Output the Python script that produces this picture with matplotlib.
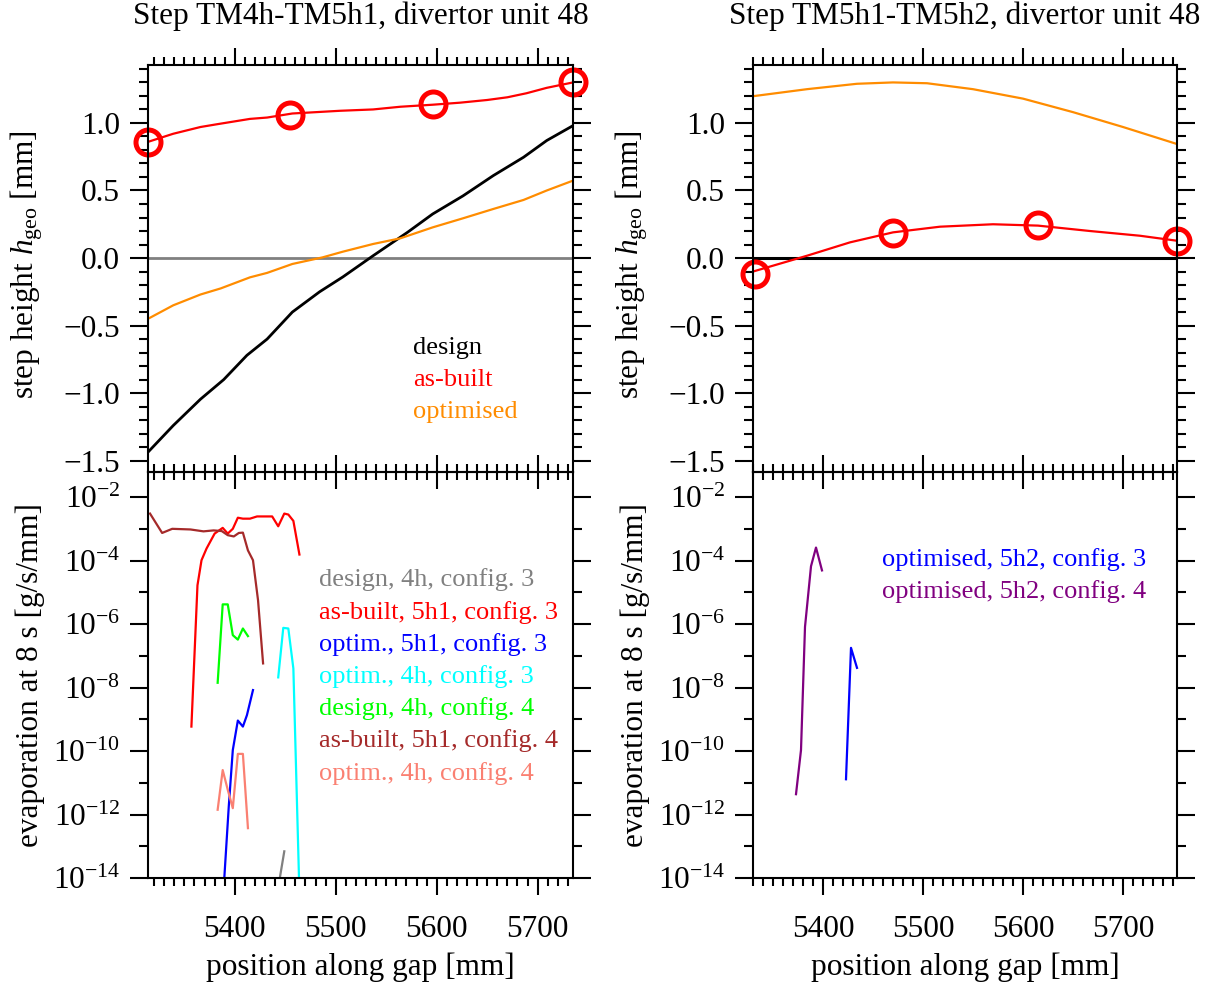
import matplotlib
matplotlib.use("Agg")
import matplotlib.pyplot as plt
import matplotlib.ticker as mticker
import numpy as np

plt.rcParams['font.family'] = ['Liberation Serif', 'DejaVu Serif']
plt.rcParams['mathtext.fontset'] = 'custom'
plt.rcParams['mathtext.rm'] = 'Liberation Serif'
plt.rcParams['mathtext.it'] = 'Liberation Serif:italic'
plt.rcParams['mathtext.bf'] = 'Liberation Serif:bold'

# ---- step height, left panel (TM4h-TM5h1) ----
l_design_x = [5314, 5339, 5366, 5389, 5412, 5432, 5457, 5484, 5507, 5537, 5571, 5596, 5626, 5656, 5686, 5709, 5735]
l_design_y = [-1.437, -1.24, -1.045, -0.90, -0.72, -0.60, -0.40, -0.25, -0.14, 0.017, 0.19, 0.326, 0.46, 0.61, 0.746, 0.87, 0.98]
l_built_x = [5314, 5339, 5366, 5382, 5415, 5432, 5457, 5504, 5537, 5564, 5596, 5623, 5650, 5670, 5689, 5709, 5735]
l_built_y = [0.86, 0.92, 0.97, 0.99, 1.03, 1.04, 1.07, 1.09, 1.10, 1.12, 1.135, 1.15, 1.17, 1.19, 1.22, 1.26, 1.30]
l_circ_x = [5314, 5455, 5596, 5735]
l_circ_y = [0.86, 1.06, 1.14, 1.30]
l_opt_x = [5314, 5339, 5366, 5386, 5415, 5432, 5457, 5487, 5507, 5537, 5564, 5596, 5626, 5656, 5686, 5709, 5735]
l_opt_y = [-0.45, -0.35, -0.27, -0.225, -0.143, -0.11, -0.044, 0.005, 0.047, 0.104, 0.146, 0.227, 0.294, 0.363, 0.43, 0.50, 0.573]

# ---- step height, right panel (TM5h1-TM5h2) ----
r_opt_x = [5330, 5384, 5434, 5470, 5504, 5550, 5600, 5650, 5700, 5754]
r_opt_y = [1.198, 1.25, 1.29, 1.30, 1.294, 1.25, 1.18, 1.08, 0.97, 0.844]
r_built_x = [5330, 5384, 5427, 5470, 5517, 5570, 5615, 5667, 5717, 5754]
r_built_y = [-0.10, 0.017, 0.116, 0.19, 0.232, 0.25, 0.24, 0.20, 0.165, 0.128]
r_circ_x = [5332, 5470, 5615, 5754]
r_circ_y = [-0.12, 0.185, 0.244, 0.128]

# ---- evaporation (log10 of g/s/mm), left panel ----
ev_design3_x = [5443, 5449]
ev_design3_y = [-14.3, -13.16]
ev_built3_x = [5357, 5363, 5367, 5372, 5380, 5388, 5393, 5398, 5403, 5408, 5415, 5422, 5437, 5443, 5449, 5453, 5458, 5464]
ev_built3_y = [-9.23, -4.78, -3.99, -3.62, -3.15, -2.97, -3.15, -3.0, -2.65, -2.68, -2.68, -2.61, -2.61, -2.92, -2.52, -2.55, -2.75, -3.81]
ev_opt5h1_3_x = [5389, 5394, 5398, 5403, 5408, 5412, 5418]
ev_opt5h1_3_y = [-14.3, -11.75, -9.97, -9.04, -9.23, -8.87, -8.08]
ev_opt4h_3_x = [5443, 5448, 5453, 5458, 5464]
ev_opt4h_3_y = [-7.68, -6.12, -6.14, -7.4, -14.5]
ev_design4_x = [5383, 5388, 5393, 5398, 5403, 5408, 5413]
ev_design4_y = [-7.85, -5.38, -5.38, -6.35, -6.49, -6.14, -6.38]
ev_built4_x = [5316, 5328, 5338, 5356, 5369, 5379, 5387, 5393, 5399, 5404, 5408, 5413, 5418, 5423, 5428]
ev_built4_y = [-2.52, -3.13, -3.0, -3.02, -3.08, -3.05, -3.07, -3.2, -3.24, -3.13, -3.12, -3.68, -3.99, -5.25, -7.24]
ev_opt4h_4_x = [5383, 5388, 5393, 5398, 5403, 5408, 5413]
ev_opt4h_4_y = [-11.85, -10.6, -11.22, -11.8, -10.09, -10.09, -12.43]

# ---- evaporation, right panel ----
ev_opt5h2_3_x = [5423, 5428, 5434]
ev_opt5h2_3_y = [-10.89, -6.75, -7.38]
ev_opt5h2_4_x = [5373, 5378, 5382, 5388, 5393, 5399]
ev_opt5h2_4_y = [-11.36, -9.97, -6.09, -4.18, -3.59, -4.31]

step_labels = ['design', 'as-built', 'optimised']
step_colors = ['black', 'red', 'darkorange']
left_ev_labels = ['design, 4h, config. 3', 'as-built, 5h1, config. 3', 'optim., 5h1, config. 3',
                  'optim., 4h, config. 3', 'design, 4h, config. 4', 'as-built, 5h1, config. 4',
                  'optim., 4h, config. 4']
left_ev_colors = ['grey', 'red', 'blue', 'cyan', 'lime', 'brown', 'salmon']
right_ev_labels = ['optimised, 5h2, config. 3', 'optimised, 5h2, config. 4']
right_ev_colors = ['blue', 'purple']
titles = ['Step TM4h-TM5h1, divertor unit 48', 'Step TM5h1-TM5h2, divertor unit 48']

W, H = 1219, 984
fig = plt.figure(figsize=(W / 100, H / 100), dpi=100)


def px_axes(x0, y0, x1, y1):
    return fig.add_axes([x0 / W, 1 - y1 / H, (x1 - x0) / W, (y1 - y0) / H])


TICK_FS = 22.5
LW = 1.6


def minus_fmt(v, pos):
    return f'{v:.1f}'.replace('-', '\u2212')


def style_axes(ax, top_part):
    for sp in ax.spines.values():
        sp.set_linewidth(1.5)
    ax.xaxis.set_major_locator(mticker.MultipleLocator(100))
    ax.xaxis.set_minor_locator(mticker.MultipleLocator(10))
    ax.tick_params(axis='both', which='both', left=True, right=True, top=True, bottom=True,
                   direction='out', width=1.5, labelsize=TICK_FS)
    ax.tick_params(axis='y', which='major', length=13, pad=7)
    ax.tick_params(axis='y', which='minor', length=6.5)
    ax.tick_params(axis='x', which='major', length=12.5, pad=14)
    ax.tick_params(axis='x', which='minor', length=6)
    if top_part:
        ax.tick_params(axis='x', labelbottom=False)


xlims = [(5314, 5735), (5330, 5754)]
xpix = [(148, 573), (753, 1177)]

axes_top = [px_axes(x0, 65, x1, 472) for x0, x1 in xpix]
axes_bot = [px_axes(x0, 472, x1, 878) for x0, x1 in xpix]

# top-left
ax = axes_top[0]
ax.axhline(0, color='grey', lw=2)
ax.plot(l_design_x, l_design_y, color='black', lw=LW + 0.4)
ax.plot(l_opt_x, l_opt_y, color='darkorange', lw=LW)
ax.plot(l_built_x, l_built_y, color='red', lw=LW)
ax.plot(l_circ_x, l_circ_y, 'o', mfc='none', mec='red', ms=18, mew=3.6, clip_on=False)

# top-right
ax = axes_top[1]
ax.axhline(0, color='black', lw=2.2)
ax.plot(r_opt_x, r_opt_y, color='darkorange', lw=LW)
ax.plot(r_built_x, r_built_y, color='red', lw=LW)
ax.plot(r_circ_x, r_circ_y, 'o', mfc='none', mec='red', ms=18, mew=3.6, clip_on=False)

for ax, xl in zip(axes_top, xlims):
    ax.set_xlim(xl)
    ax.set_ylim(-1.584, 1.429)
    ax.yaxis.set_major_locator(mticker.MultipleLocator(0.5))
    ax.yaxis.set_minor_locator(mticker.MultipleLocator(0.1))
    ax.yaxis.set_major_formatter(mticker.FuncFormatter(minus_fmt))
    style_axes(ax, True)
    ax.set_ylabel(r'step height $h_{\rm geo}$ [mm]', fontsize=TICK_FS)
    ax.yaxis.set_label_coords(-0.242, 0.51)

# bottom-left
ax = axes_bot[0]
left_series = [(ev_design3_x, ev_design3_y), (ev_built3_x, ev_built3_y),
               (ev_opt5h1_3_x, ev_opt5h1_3_y), (ev_opt4h_3_x, ev_opt4h_3_y),
               (ev_design4_x, ev_design4_y), (ev_built4_x, ev_built4_y),
               (ev_opt4h_4_x, ev_opt4h_4_y)]
for (xs, ys), col in zip(left_series, left_ev_colors):
    ax.plot(xs, 10.0 ** np.array(ys), color=col, lw=LW)

# bottom-right
ax = axes_bot[1]
right_series = [(ev_opt5h2_3_x, ev_opt5h2_3_y), (ev_opt5h2_4_x, ev_opt5h2_4_y)]
for (xs, ys), col in zip(right_series, right_ev_colors):
    ax.plot(xs, 10.0 ** np.array(ys), color=col, lw=LW)

for ax, xl in zip(axes_bot, xlims):
    ax.patch.set_alpha(0)  # let the upper panel's bottom ticks show through
    ax.set_xlim(xl)
    ax.set_yscale('log')
    ax.set_ylim(1e-14, 10 ** -1.21)
    ax.yaxis.set_major_locator(mticker.FixedLocator([10.0 ** k for k in range(-14, -1, 2)]))
    ax.yaxis.set_minor_locator(mticker.FixedLocator([10.0 ** k for k in range(-13, -1, 2)]))
    ax.yaxis.set_major_formatter(mticker.LogFormatterMathtext())
    ax.yaxis.set_minor_formatter(mticker.NullFormatter())
    style_axes(ax, False)
    ax.set_xlabel('position along gap [mm]', fontsize=TICK_FS, labelpad=6)
    ax.set_ylabel('evaporation at 8 s [g/s/mm]', fontsize=TICK_FS)
    ax.yaxis.set_label_coords(-0.242, 0.5)


def fig_text(x, y, s, col, fs=19, ha='left'):
    fig.text(x / W, 1 - y / H, s, color=col, fontsize=fs, va='center', ha=ha)


for i, (lab, col) in enumerate(zip(step_labels, step_colors)):
    fig_text(413, 348 + 32 * i, lab, col)
for i, (lab, col) in enumerate(zip(left_ev_labels, left_ev_colors)):
    fig_text(319, 580 + 32.2 * i, lab, col)
for i, (lab, col) in enumerate(zip(right_ev_labels, right_ev_colors)):
    fig_text(882, 560 + 32 * i, lab, col)

for (x0, x1), t in zip(xpix, titles):
    fig_text((x0 + x1) / 2, 16, t, 'black', fs=TICK_FS, ha='center')

fig.savefig('out.png', dpi=100)
